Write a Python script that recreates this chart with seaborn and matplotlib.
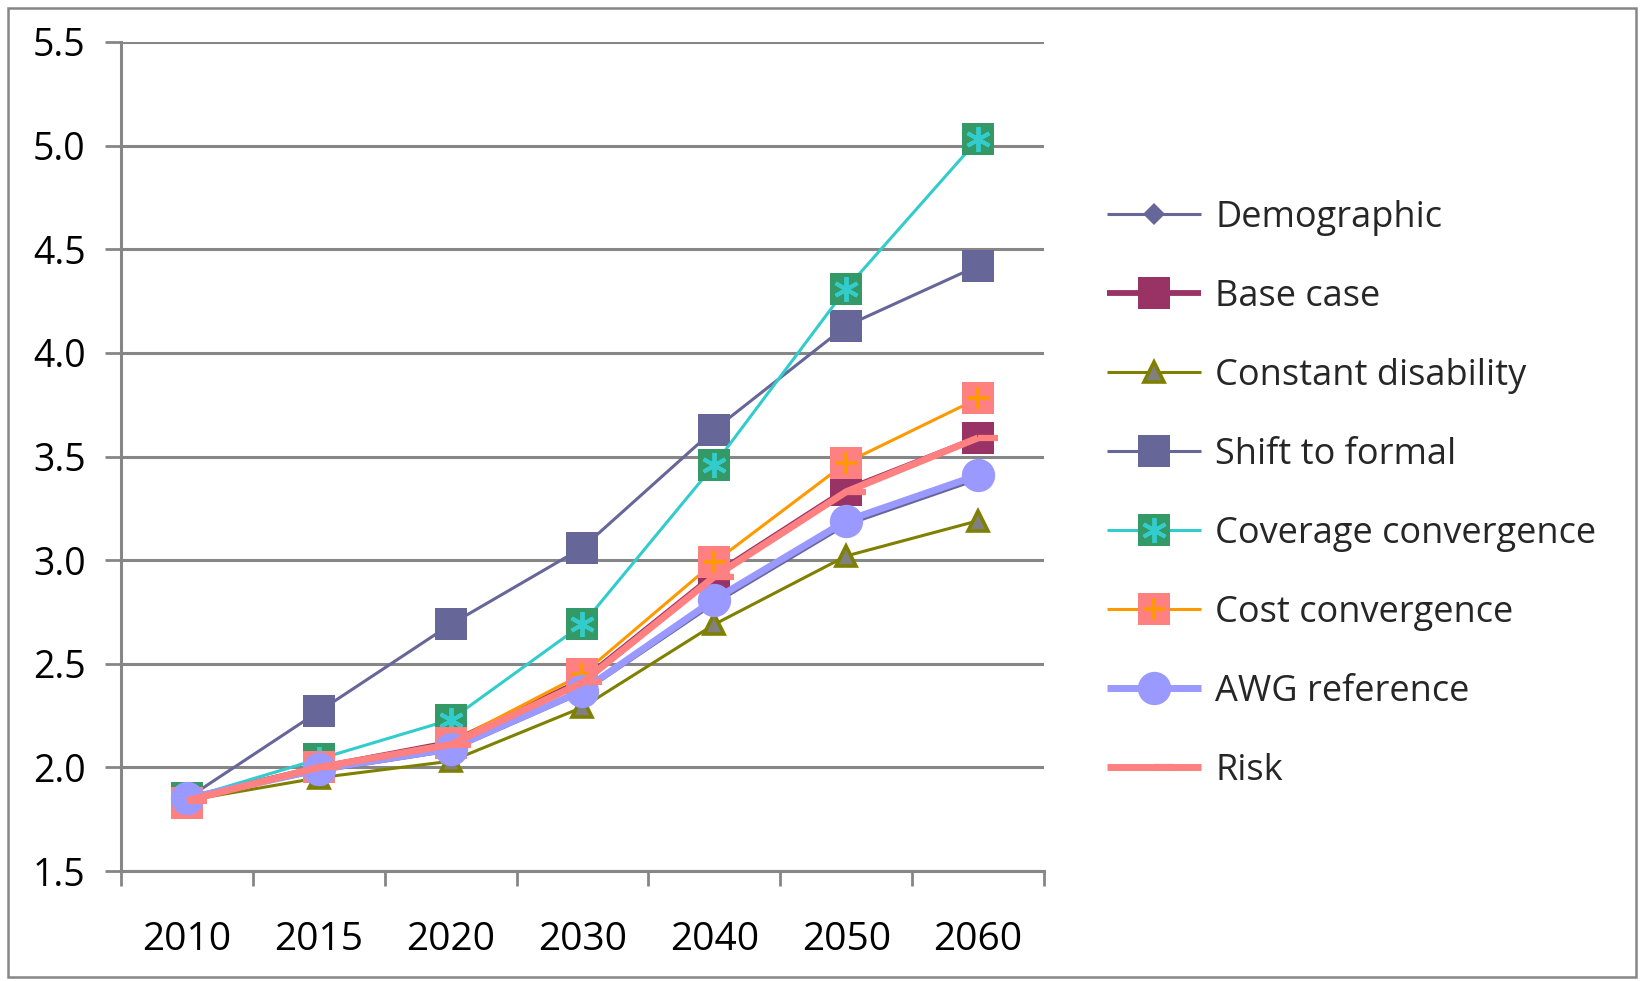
import numpy as np
import pandas as pd
import matplotlib
matplotlib.use("Agg")
import matplotlib.pyplot as plt
from matplotlib.path import Path
from matplotlib.patches import Rectangle
import seaborn as sns

# Projection years (category axis) and scenario series
years = ["2010", "2015", "2020", "2030", "2040", "2050", "2060"]

demographic = [1.85, 1.98, 2.08, 2.36, 2.79, 3.17, 3.39]
base_case = [1.85, 2.00, 2.12, 2.42, 2.93, 3.34, 3.59]
constant_disability = [1.84, 1.95, 2.03, 2.29, 2.69, 3.02, 3.19]
shift_to_formal = [1.85, 2.27, 2.69, 3.06, 3.63, 4.13, 4.42]
coverage_convergence = [1.85, 2.04, 2.23, 2.69, 3.46, 4.31, 5.03]
cost_convergence = [1.83, 2.00, 2.12, 2.45, 2.99, 3.47, 3.78]
awg_reference = [1.85, 1.99, 2.09, 2.37, 2.81, 3.19, 3.41]
risk = [1.84, 2.00, 2.11, 2.41, 2.92, 3.33, 3.59]

y_ticks = [1.5, 2.0, 2.5, 3.0, 3.5, 4.0, 4.5, 5.0, 5.5]

GRAY = "#868686"

sns.set_style("white", {"xtick.bottom": True, "ytick.left": True})
plt.rcParams["font.family"] = ["Open Sans", "DejaVu Sans"]

fig = plt.figure(figsize=(16.42, 9.81), dpi=100)
ax = fig.add_axes([0.0737, 0.1121, 0.5621, 0.8451])

# short dash marker that starts at the point and extends to the right
dash_path = Path([(0.0, 0.0), (1.0, 0.0)], [Path.MOVETO, Path.LINETO])

series = [
    ("Demographic", demographic,
     dict(color="#666699", lw=2.2, marker="D", ms=11, mfc="#666699", mec="#666699", mew=0)),
    ("Base case", base_case,
     dict(color="#993366", lw=4.2, marker="s", ms=23, mfc="#993366", mec="#993366", mew=0)),
    ("Constant disability", constant_disability,
     dict(color="#808000", lw=2.2, marker="^", ms=15, mfc="#808080", mec="#808000", mew=2.6)),
    ("Shift to formal", shift_to_formal,
     dict(color="#666699", lw=2.2, marker="s", ms=23, mfc="#666699", mec="#666699", mew=0)),
    ("Coverage convergence", coverage_convergence,
     dict(color="#33CCCC", lw=2.2, marker="s", ms=23, mfc="#339966", mec="#339966", mew=0)),
    ("Cost convergence", cost_convergence,
     dict(color="#FF9900", lw=2.2, marker="s", ms=23, mfc="#FF8080", mec="#FF8080", mew=0)),
    ("AWG reference", awg_reference,
     dict(color="#9999FF", lw=5.0, marker="o", ms=24, mfc="#9999FF", mec="#9999FF", mew=0)),
    ("Risk", risk,
     dict(color="#FF8080", lw=5.0, marker=dash_path, ms=29, mfc="none", mec="#FF8080", mew=4.5)),
]

# symbols drawn inside the square markers
overlays = {
    "Coverage convergence": dict(marker=(6, 2, 0), ms=18, mec="#33CCCC", mew=2.8),
    "Cost convergence": dict(marker="+", ms=16, mec="#FF9900", mew=2.6),
}

handles, labels = [], []
for i, (name, values, style) in enumerate(series):
    df = pd.DataFrame({"year": years, "value": values})
    sns.lineplot(data=df, x="year", y="value", ax=ax, sort=False, errorbar=None,
                 legend=False, zorder=3 + i, solid_capstyle="butt", **style)
    line = ax.lines[-1]
    if name in overlays:
        sns.lineplot(data=df, x="year", y="value", ax=ax, sort=False, errorbar=None,
                     legend=False, linestyle="", zorder=3 + i, **overlays[name])
        handles.append((line, ax.lines[-1]))
    else:
        handles.append(line)
    labels.append(name)

ax.set_xlabel("")
ax.set_ylabel("")
ax.set_xlim(-0.5, 6.5)
ax.set_ylim(1.5, 5.5)

ax.set_yticks(y_ticks)
ax.set_yticklabels([f"{v:.1f}" for v in y_ticks])
ax.yaxis.grid(True, color=GRAY, lw=2.2)
ax.xaxis.grid(False)
ax.set_axisbelow(True)

ax.set_xticks(np.arange(-0.5, 7.0, 1.0))
ax.set_xticklabels([])
ax.set_xticks(np.arange(len(years)), minor=True)
ax.set_xticklabels(years, minor=True)

ax.tick_params(axis="x", which="major", length=11, width=2, color=GRAY, direction="out")
ax.tick_params(axis="x", which="minor", length=0, pad=36, labelsize=28, labelcolor="black")
ax.tick_params(axis="y", length=11.5, width=2, color=GRAY, direction="out",
               pad=14, labelsize=27, labelcolor="black")

for side in ("top", "right"):
    ax.spines[side].set_visible(False)
for side in ("left", "bottom"):
    ax.spines[side].set_color(GRAY)
    ax.spines[side].set_linewidth(2.2)

fig.legend(handles, labels, loc="upper left", bbox_to_anchor=(0.674, 0.796),
           frameon=False, fontsize=26, handlelength=2.6, handletextpad=0.4,
           labelspacing=1.19, borderpad=0, borderaxespad=0, numpoints=1)

# outer chart border
fig.patches.append(Rectangle((0.0049, 0.0041), 0.9915, 0.9878, transform=fig.transFigure,
                             fill=False, edgecolor=GRAY, lw=1.8))

fig.savefig("out.png", dpi=100)
